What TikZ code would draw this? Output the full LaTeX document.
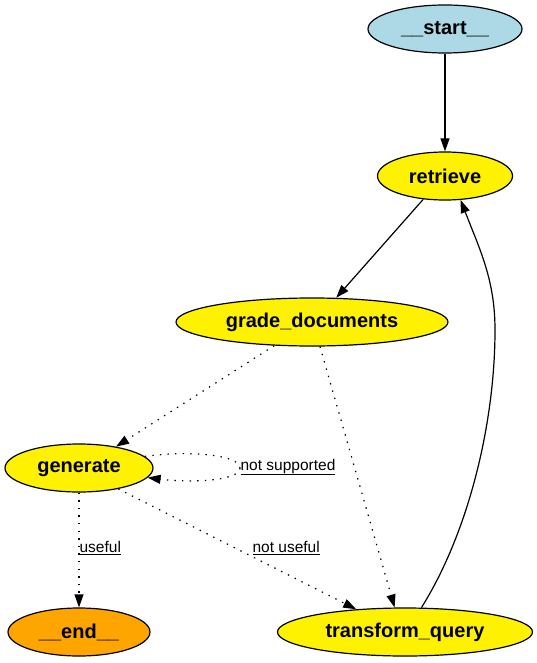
\documentclass[tikz,border=0pt]{standalone}
\usepackage{fontspec}
\setmainfont{Liberation Sans}
\usetikzlibrary{shapes.geometric,arrows.meta}
\definecolor{startblue}{HTML}{ADD8E6}
\definecolor{endorange}{HTML}{FFA500}
\begin{document}
\begin{tikzpicture}[x=1pt, y=-1pt, line width=1.2pt, >={Triangle[length=13pt, width=9pt]},
  state/.style={draw, ellipse, fill=yellow, inner sep=0pt, font=\fontsize{20}{24}\selectfont\bfseries},
  cond/.style={dash pattern=on 1.4pt off 6.2pt},
  lbl/.style={font=\fontsize{15.5}{18}\selectfont, inner sep=0pt}]
\useasboundingbox (0,0) rectangle (537,663);
\node[state, fill=startblue, minimum width=154pt, minimum height=48pt] (start) at (445,29) {\_\_start\_\_};
\node[state, minimum width=135pt, minimum height=48pt] (retrieve) at (445,176) {retrieve};
\node[state, minimum width=272pt, minimum height=48pt] (grade) at (312,322) {grade\_documents};
\node[state, minimum width=148pt, minimum height=48pt] (generate) at (79,468) {generate};
\node[state, fill=endorange, minimum width=142pt, minimum height=48pt] (end) at (79,632) {\_\_end\_\_};
\node[state, minimum width=255pt, minimum height=48pt] (transform) at (405,632) {transform\_query};
\coordinate (loop) at (240,468);
\draw[->] (start) -- (retrieve);
\draw[->] (retrieve.227) -- (grade.45);
\draw[->, cond] (grade.212) -- (generate.30);
\draw[->, cond] (grade.288) -- (transform.113);
\draw[cond] (generate.10) .. controls (190,450) and (240,455) .. (loop);
\draw[->, cond] (loop) .. controls (240,481) and (190,483) .. (generate.352);
\node[lbl, anchor=west] (ns) at (240,467) {\underline{not supported}};
\draw[->, cond] (generate) -- (end);
\node[lbl, anchor=west] (us) at (79,548) {\underline{useful}};
\draw[->, cond] (generate.332) -- (transform.155);
\node[lbl, fill=white, anchor=west] (nu) at (252,548) {\underline{not useful}};
\draw[->] (transform.56) .. controls (470,530) and (495,420) .. (495,330) .. controls (495,280) and (480,250) .. (retrieve.303);
\end{tikzpicture}
\end{document}
